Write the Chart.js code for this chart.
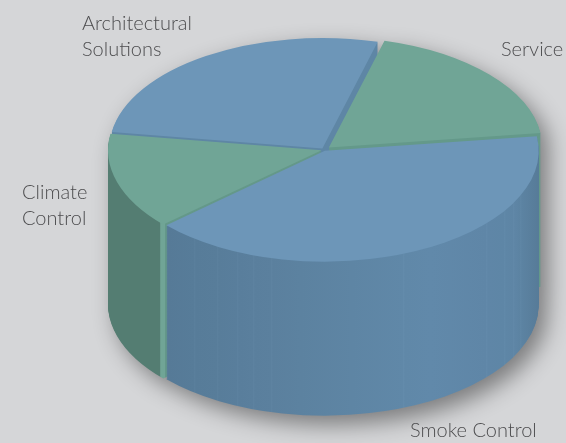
<!DOCTYPE html>
<html>
<head>
<meta charset="utf-8">
<script src="https://cdn.jsdelivr.net/npm/chart.js@4"></script>
<style>
  html, body { margin: 0; padding: 0; background: #d5d6d8; overflow: hidden; }
  canvas { display: block; }
</style>
</head>
<body>
<canvas id="pie" width="566" height="443"></canvas>
<script>
// Market share by division, in percent
const categories = ['Smoke Control', 'Climate Control', 'Architectural Solutions', 'Service'];
const shares = [40.4, 14.1, 26.8, 18.7];
const labelLines = [['Smoke Control'], ['Climate', 'Control'], ['Architectural', 'Solutions'], ['Service']];

// Styling of each slice
const topColors = ['#6d96b8', '#70a596', '#6d96b8', '#70a596'];
const sliceOffsets = [8, 10, 12, 26];
const labelAnchors = [[410, 437], [22, 199], [82, 30], [501, 56]];

// Cylinder projection: vertical squash, screen height of the disc centre, wall height
const SQUASH = 0.5185;
const TOP_Y = 149.8;
const DEPTH = 154;

// Wall colours across the width of the page: [x, [r, g, b]]
const wallStops = [
  [[0, [86, 122, 151]], [167, [86, 122, 151]], [300, [92, 130, 160]], [430, [97, 137, 170]], [515, [94, 133, 165]], [540, [86, 122, 151]], [566, [86, 122, 151]]],
  [[0, [84, 125, 114]], [162.5, [84, 125, 114]], [163, [112, 165, 150]], [167, [112, 165, 150]], [167.5, [100, 152, 137]], [566, [100, 152, 137]]],
  [[0, [94, 134, 165]], [566, [94, 134, 165]]],
  [[0, [100, 153, 138]], [566, [100, 153, 138]]]
];
const wallStreaks = [[194, 217, 237, 253, 271, 403, 486, 504, 513, 520], [], [], []];

function colorAt(stops, x) {
  for (let i = 1; i < stops.length; i++) {
    if (x <= stops[i][0]) {
      const [x0, c0] = stops[i - 1];
      const [x1, c1] = stops[i];
      const t = (x - x0) / (x1 - x0);
      return c0.map((v, k) => v + (c1[k] - v) * t);
    }
  }
  return stops[stops.length - 1][1];
}

function wallGradient(ctx, stops, streaks) {
  const width = ctx.canvas.width;
  const grad = ctx.createLinearGradient(0, 0, width, 0);
  const css = c => `rgb(${c.map(Math.round).join(',')})`;
  const points = [];
  stops.forEach(s => points.push([s[0], s[1]]));
  streaks.forEach(x => {
    const base = colorAt(stops, x);
    points.push([x - 0.8, base]);
    points.push([x, base.map(v => v + 5)]);
    points.push([x + 0.8, base]);
  });
  points.sort((a, b) => a[0] - b[0]);
  points.forEach(p => grad.addColorStop(p[0] / width, css(p[1])));
  return grad;
}

// Draws one slice through ArcElement, flattened into the cylinder plane at a given depth
function paintSlice(ctx, arc, fill, depth) {
  ctx.save();
  ctx.translate(0, TOP_Y + depth);
  ctx.scale(1, SQUASH);
  ctx.translate(0, -arc.y);
  const resolved = arc.options;
  arc.options = Object.assign(Object.create(resolved), { backgroundColor: fill, borderWidth: 0 });
  arc.draw(ctx);
  arc.options = resolved;
  ctx.restore();
}

const cylinder = {
  id: 'cylinder',
  beforeDatasetsDraw(chart) {
    const ctx = chart.ctx;
    const arcs = chart.getDatasetMeta(0).data;

    // soft cast shadow from the silhouette of the whole stack
    const mask = document.createElement('canvas');
    mask.width = chart.width;
    mask.height = chart.height;
    const maskCtx = mask.getContext('2d');
    for (let d = 0; d <= DEPTH; d += 2) {
      arcs.forEach(arc => paintSlice(maskCtx, arc, '#000', d));
    }
    ctx.save();
    ctx.shadowColor = 'rgba(0,0,0,0.42)';
    ctx.shadowBlur = 22;
    ctx.shadowOffsetX = 2000 + 8;
    ctx.shadowOffsetY = 9;
    ctx.drawImage(mask, -2000, 0);
    ctx.restore();

    // extruded walls, back slices first
    [2, 3, 1, 0].forEach(i => {
      const fill = wallGradient(ctx, wallStops[i], wallStreaks[i]);
      for (let d = DEPTH; d > 0; d--) {
        paintSlice(ctx, arcs[i], fill, d);
      }
    });

    // top faces are drawn by the pie controller inside this transform
    ctx.save();
    const cy = arcs[0].y;
    ctx.translate(0, TOP_Y);
    ctx.scale(1, SQUASH);
    ctx.translate(0, -cy);
  },
  afterDatasetsDraw(chart) {
    chart.ctx.restore();
    const ctx = chart.ctx;
    ctx.save();
    ctx.font = '300 20px Lato';
    ctx.fillStyle = '#4d4d4f';
    ctx.textBaseline = 'alphabetic';
    labelLines.forEach((lines, i) => {
      lines.forEach((line, k) => {
        ctx.fillText(line, labelAnchors[i][0], labelAnchors[i][1] + k * 25.5);
      });
    });
    ctx.restore();
  }
};

new Chart(document.getElementById('pie'), {
  type: 'pie',
  data: {
    labels: categories,
    datasets: [{
      data: shares,
      backgroundColor: topColors,
      borderWidth: 0,
      offset: sliceOffsets,
      clip: false
    }]
  },
  options: {
    responsive: false,
    animation: false,
    rotation: 82.4,
    radius: 213,
    layout: { padding: { left: 82 } },
    events: [],
    plugins: { legend: { display: false }, tooltip: { enabled: false } }
  },
  plugins: [cylinder]
});
</script>
</body>
</html>
